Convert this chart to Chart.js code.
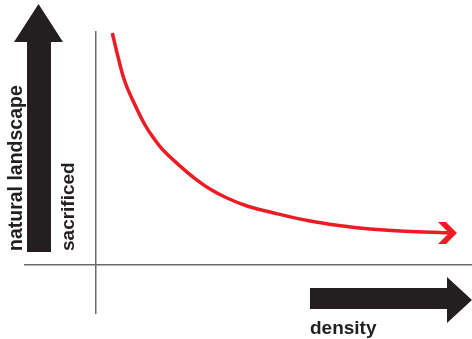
<!DOCTYPE html>
<html>
<head>
<meta charset="utf-8">
<script src="https://cdn.jsdelivr.net/npm/chart.js@4/dist/chart.umd.min.js"></script>
<style>
  html, body { margin: 0; padding: 0; background: #fff; }
  #wrap { position: relative; width: 472px; height: 339px; }
</style>
</head>
<body>
<div id="wrap"><canvas id="densityChart"></canvas></div>
<script>
// density (x) vs natural landscape sacrificed (y), arbitrary units
const densityValues = [1.63, 2.23, 2.9, 3.9, 4.9, 5.9, 6.7, 8.4, 9.7, 11.4, 13.1, 15.1, 17.4, 21.4, 24.7, 27.4, 30.4, 34.4, 35.4];
const landscapeSacrificed = [23.2, 20.7, 18.3, 16.0, 14.0, 12.5, 11.5, 9.9, 8.8, 7.6, 6.7, 5.9, 5.3, 4.4, 3.9, 3.6, 3.4, 3.25, 3.2];
const axisLabels = { x: 'density', yOuter: 'natural landscape', yInner: 'sacrificed' };

const curvePoints = densityValues.map((d, i) => ({ x: d, y: landscapeSacrificed[i] }));

const ink = '#231f20';
const curveRed = '#ed1c24';

// big black arrows, labels and the red arrow tip
const decorations = {
  id: 'decorations',
  afterDraw(chart) {
    const ctx = chart.ctx;
    ctx.save();
    ctx.fillStyle = ink;

    // vertical arrow
    ctx.beginPath();
    ctx.moveTo(27, 252);
    ctx.lineTo(27, 42);
    ctx.lineTo(14, 42);
    ctx.lineTo(38.5, 4);
    ctx.lineTo(63, 42);
    ctx.lineTo(51, 42);
    ctx.lineTo(51, 252);
    ctx.closePath();
    ctx.fill();

    // horizontal arrow
    ctx.beginPath();
    ctx.moveTo(310, 288);
    ctx.lineTo(447, 288);
    ctx.lineTo(447, 277);
    ctx.lineTo(472, 300);
    ctx.lineTo(447, 323);
    ctx.lineTo(447, 309);
    ctx.lineTo(310, 309);
    ctx.closePath();
    ctx.fill();

    ctx.textBaseline = 'alphabetic';
    ctx.textAlign = 'left';
    ctx.font = 'bold 19px "Liberation Sans", Arial, sans-serif';
    ctx.fillText(axisLabels.x, 310, 334);

    ctx.save();
    ctx.translate(22, 251);
    ctx.rotate(-Math.PI / 2);
    ctx.font = 'bold 19.5px "Liberation Sans", Arial, sans-serif';
    ctx.fillText(axisLabels.yOuter, 0, 0);
    ctx.restore();

    ctx.save();
    ctx.translate(74, 251);
    ctx.rotate(-Math.PI / 2);
    ctx.font = 'bold 19px "Liberation Sans", Arial, sans-serif';
    ctx.fillText(axisLabels.yInner, 0, 0);
    ctx.restore();

    // red chevron at the end of the curve
    const meta = chart.getDatasetMeta(0);
    const last = meta.data[meta.data.length - 1];
    const tx = last.x + 7, ty = last.y;
    ctx.fillStyle = curveRed;
    ctx.beginPath();
    ctx.moveTo(tx - 19, ty - 11);
    ctx.lineTo(tx - 11, ty - 11);
    ctx.lineTo(tx, ty);
    ctx.lineTo(tx - 11, ty + 11);
    ctx.lineTo(tx - 19, ty + 11);
    ctx.lineTo(tx - 8, ty);
    ctx.closePath();
    ctx.fill();
    ctx.restore();
  }
};

const ctxDensity = document.getElementById('densityChart').getContext('2d');
new Chart(ctxDensity, {
  type: 'scatter',
  data: {
    datasets: [{
      data: curvePoints,
      showLine: true,
      borderColor: curveRed,
      borderWidth: 3.5,
      pointRadius: 0,
      tension: 0.4,
      fill: false,
    }],
  },
  options: {
    responsive: true,
    maintainAspectRatio: false,
    animation: false,
    layout: { padding: { left: 25, right: 0, top: 32, bottom: 26 } },
    plugins: { legend: { display: false }, tooltip: { enabled: false } },
    scales: {
      x: {
        type: 'linear',
        min: -7.1,
        max: 37.6,
        position: { y: 0 },
        ticks: { display: false },
        grid: { display: false },
        border: { display: true, color: '#6b6b6b', width: 1.5 },
      },
      y: {
        type: 'linear',
        min: -4.8,
        max: 23.3,
        position: { x: 0 },
        ticks: { display: false },
        grid: { display: false },
        border: { display: true, color: '#6b6b6b', width: 1.5 },
      },
    },
  },
  plugins: [decorations],
});
</script>
</body>
</html>
